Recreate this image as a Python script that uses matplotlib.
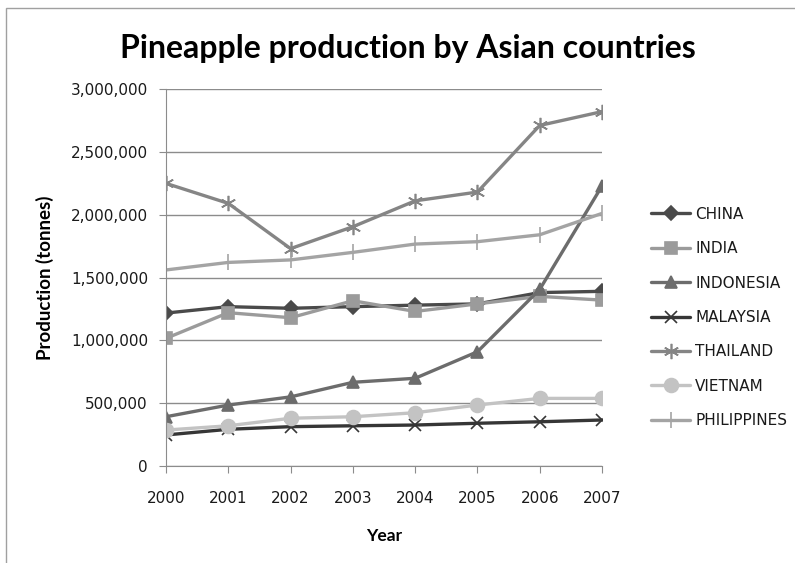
import matplotlib
matplotlib.use("Agg")
import matplotlib.pyplot as plt
from matplotlib.ticker import FuncFormatter
from matplotlib.patches import Rectangle

# Pineapple production in tonnes, 2000-2007
years = [2000, 2001, 2002, 2003, 2004, 2005, 2006, 2007]
china = [1217000, 1268000, 1255000, 1268000, 1280000, 1290000, 1380000, 1390000]
india = [1016000, 1220000, 1180000, 1315000, 1230000, 1290000, 1350000, 1320000]
indonesia = [392000, 485000, 550000, 666000, 698000, 909000, 1405000, 2228000]
malaysia = [247000, 292000, 313000, 320000, 326000, 340000, 352000, 366000]
thailand = [2249000, 2090000, 1730000, 1904000, 2110000, 2180000, 2710000, 2820000]
vietnam = [286000, 320000, 380000, 392000, 424000, 485000, 538000, 538000]
philippines = [1560000, 1620000, 1640000, 1700000, 1766000, 1785000, 1840000, 2010000]

series = [
    ("CHINA", china, "#4a4a4a", "D", 7),
    ("INDIA", india, "#9b9b9b", "s", 9),
    ("INDONESIA", indonesia, "#6c6c6c", "^", 9),
    ("MALAYSIA", malaysia, "#363636", "x", 9),
    ("THAILAND", thailand, "#858585", (6, 2, 0), 11),
    ("VIETNAM", vietnam, "#c3c3c3", "o", 10),
    ("PHILIPPINES", philippines, "#a4a4a4", "|", 11),
]

fig = plt.figure(figsize=(7.95, 5.63), dpi=100)
ax = fig.add_axes([0.2088, 0.1723, 0.5484, 0.6696])

# outer chart border
fig.patches.append(Rectangle((0.008, -0.02), 1.1, 1.006, transform=fig.transFigure,
                             fill=False, edgecolor="#a0a0a0", linewidth=1.0))

for name, vals, col, mk, ms in series:
    ax.plot(years, vals, color=col, linewidth=2.4, marker=mk, markersize=ms,
            markerfacecolor=col, markeredgecolor=col, markeredgewidth=1.2,
            label=name, solid_capstyle="round")

ax.set_xlim(2000, 2007)
ax.set_ylim(0, 3000000)
ax.set_xticks(years)
ax.set_yticks(range(0, 3000001, 500000))
ax.yaxis.set_major_formatter(FuncFormatter(lambda v, p: f"{int(v):,}"))
ax.grid(axis="y", color="#8c8c8c", linewidth=1.0)
ax.set_axisbelow(True)
for s in ["top", "right"]:
    ax.spines[s].set_visible(False)
for s in ["left", "bottom"]:
    ax.spines[s].set_color("#8c8c8c")
ax.tick_params(axis="both", colors="#8c8c8c", labelcolor="#1a1a1a",
               labelsize=11, length=5, direction="out")
ax.tick_params(axis="x", pad=13)
ax.tick_params(axis="y", pad=8)

fig.text(0.513, 0.913, "Pineapple production by Asian countries", ha="center",
         va="center", fontsize=23, fontweight="bold", family="Lato")
ax.set_ylabel("Production (tonnes)", fontsize=13.5, fontweight="bold",
              family="Lato", labelpad=12)
ax.set_xlabel("Year", fontsize=12.5, fontweight="bold", family="Lato", labelpad=16)

leg = ax.legend(loc="center left", bbox_to_anchor=(1.099, 0.394), frameon=False,
                fontsize=11, labelspacing=1.27, handlelength=2.55,
                handletextpad=0.33, borderaxespad=0)
for t in leg.get_texts():
    t.set_color("#1a1a1a")

fig.savefig("out.png", dpi=100)
